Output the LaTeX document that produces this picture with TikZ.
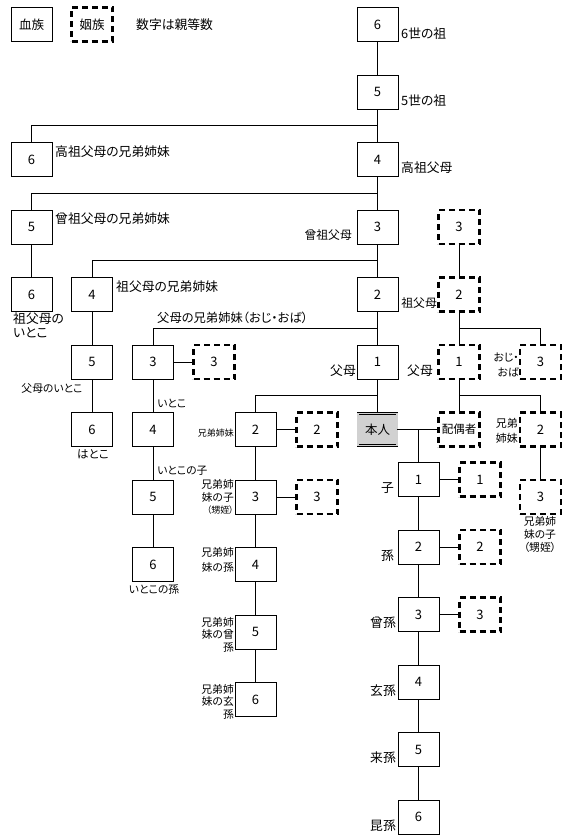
\documentclass[tikz,border=0pt]{standalone}
\usepackage{fontspec}
\setmainfont[RawFeature=+palt]{Noto Sans CJK JP}
\usetikzlibrary{calc}
\tikzset{
  blood/.style={draw, line width=0.8pt, minimum width=41pt, minimum height=34pt, inner sep=0pt, font=\fontsize{13}{13}\selectfont},
  inlaw/.style={blood, line width=2.2pt, dash pattern=on 6pt off 4pt},
  selfbox/.style={blood, minimum width=39pt, minimum height=32pt, line width=0.7pt, fill=black!18, double=black!18, double distance=1.4pt, font=\fontsize{12.5}{12.5}\selectfont},
  lbl/.style={inner sep=0pt, font=\fontsize{12.8}{14}\selectfont},
  lbm/.style={inner sep=0pt, font=\fontsize{10.8}{12.5}\selectfont},
  lbs/.style={inner sep=0pt, font=\fontsize{9}{10}\selectfont},
  conn/.style={line width=0.8pt}
}
\begin{document}
\begin{tikzpicture}[x=1pt,y=-1pt]
\useasboundingbox (0,0) rectangle (567,840);
% legend
\node[blood, font=\fontsize{12.5}{12.5}\selectfont] (lga) at (31.5,24.5) {血族};
\node[inlaw, font=\fontsize{12.5}{12.5}\selectfont] (lgb) at (92,24.5) {姻族};
\node[lbl, anchor=west] (lgt) at (136,25) {数字は親等数};
% main column
\node[blood] (m6) at (377.5,24.5) {6};
\node[blood] (m5) at (377.5,92) {5};
\node[blood] (m4) at (377.5,159.5) {4};
\node[blood] (m3) at (377.5,227) {3};
\node[blood] (m2) at (377.5,294.5) {2};
\node[blood] (m1) at (377.5,362) {1};
\node[selfbox] (me) at (377.5,429.5) {本人};
% column A
\node[blood] (a6) at (31.5,159.5) {6};
\node[blood] (a5) at (31.5,227) {5};
\node[blood] (a6b) at (31.5,294.5) {6};
% column B
\node[blood] (b4) at (92,294.5) {4};
\node[blood] (b5) at (92,362) {5};
\node[blood] (b6) at (92,429.5) {6};
% column C
\node[blood] (c3) at (153,362) {3};
\node[inlaw] (cd3) at (214,362) {3};
\node[blood] (c4) at (153,429.5) {4};
\node[blood] (c5) at (153,497) {5};
\node[blood] (c6) at (153,564.5) {6};
% column D
\node[blood] (d2) at (255.5,429.5) {2};
\node[inlaw] (dd2) at (317,429.5) {2};
\node[blood] (d3) at (255.5,497) {3};
\node[inlaw] (dd3) at (317,497) {3};
\node[blood] (d4) at (255.5,564.5) {4};
\node[blood] (d5) at (255.5,632) {5};
\node[blood] (d6) at (255.5,699.5) {6};
% children
\node[blood] (k1) at (418.5,479.5) {1};
\node[inlaw] (kd1) at (480,479.5) {1};
\node[blood] (k2) at (418.5,547) {2};
\node[inlaw] (kd2) at (480,547) {2};
\node[blood] (k3) at (418.5,614.5) {3};
\node[inlaw] (kd3) at (480,614.5) {3};
\node[blood] (k4) at (418.5,682) {4};
\node[blood] (k5) at (418.5,749.5) {5};
\node[blood] (k6) at (418.5,817) {6};
% spouse side
\node[inlaw] (r3) at (459,227) {3};
\node[inlaw] (r2) at (459,294.5) {2};
\node[inlaw] (r1) at (459,362) {1};
\node[inlaw] (ro) at (540.5,362) {3};
\node[inlaw, font=\fontsize{11.5}{11.5}\selectfont] (sp) at (459,429.5) {配偶者};
\node[inlaw] (rs2) at (540.5,429.5) {2};
\node[inlaw] (rs3) at (540.5,497) {3};
% connectors
\draw[conn] (m6)--(m5) (m5)--(m4) (m4)--(m3) (m3)--(m2) (m2)--(m1) (m1)--(me);
\draw[conn] (a6.north) |- ($(m5)!.5!(m4)$);
\draw[conn] (a5.north) |- ($(m4)!.5!(m3)$);
\draw[conn] (a5)--(a6b);
\draw[conn] (b4.north) |- ($(m3)!.5!(m2)$);
\draw[conn] (b4)--(b5) (b5)--(b6);
\draw[conn] (c3.north) |- ($(m2)!.5!(m1)$);
\draw[conn] (c3)--(cd3) (c3)--(c4) (c4)--(c5) (c5)--(c6);
\draw[conn] (d2.north) |- ($(m1)!.5!(me)$);
\draw[conn] (d2)--(dd2) (d2)--(d3) (d3)--(dd3) (d3)--(d4) (d4)--(d5) (d5)--(d6);
\draw[conn] (me)--(sp);
\draw[conn] (k1.north) -- (k1.north |- me);
\draw[conn] (k1)--(kd1) (k1)--(k2) (k2)--(kd2) (k2)--(k3) (k3)--(kd3) (k3)--(k4) (k4)--(k5) (k5)--(k6);
\draw[conn] (r3)--(r2) (r2)--(r1) (r1)--(sp);
\draw[conn] (ro.north) |- ($(r2)!.5!(r1)$);
\draw[conn] (rs2.north) |- ($(r1)!.5!(sp)$);
\draw[conn] (rs2)--(rs3);
% labels
\node[lbl, anchor=west] (t1) at (401,33.5) {6世の祖};
\node[lbl, anchor=west] (t2) at (401,101) {5世の祖};
\node[lbl, anchor=west] (t3) at (401,168) {高祖父母};
\node[lbl, anchor=west] (t4) at (55,151.5) {高祖父母の兄弟姉妹};
\node[lbl, anchor=west] (t5) at (55,218.5) {曾祖父母の兄弟姉妹};
\node[lbl, anchor=west] (t6) at (116,286.5) {祖父母の兄弟姉妹};
\node[lbl, anchor=east, font=\fontsize{11.8}{14}\selectfont] (t7) at (352,235.5) {曾祖父母};
\node[lbl, anchor=east, font=\fontsize{11.8}{14}\selectfont] (t8) at (437,303) {祖父母};
\node[lbl, anchor=north west, align=left] (t9) at (13,313) {祖父母の\\いとこ};
\node[lbl, anchor=west, font=\fontsize{12.3}{14}\selectfont] (t10) at (157,318) {父母の兄弟姉妹（おじ・おば）};
\node[lbl, anchor=east] (t11) at (356,370.5) {父母};
\node[lbl, anchor=east] (t12) at (433,370.5) {父母};
\node[lbm, anchor=east, align=right, font=\fontsize{10.8}{15}\selectfont] (t13) at (519,364.5) {おじ・\\おば};
\node[lbm] (t14) at (52,388) {父母のいとこ};
\node[lbm, font=\fontsize{11.5}{12.5}\selectfont] (t15) at (93,454) {はとこ};
\node[lbm, anchor=west] (t16) at (157,403) {いとこ};
\node[lbm, anchor=west] (t17) at (157,471) {いとこの子};
\node[lbm] (t18) at (154,589) {いとこの孫};
\node[lbs, anchor=east] (t19) at (234,433) {兄弟姉妹};
\node[lbm, anchor=east, align=right] (t20) at (234,497) {兄弟姉\\妹の子\\{\fontsize{9}{12.5}\selectfont （甥姪）}};
\node[lbm, anchor=east, align=right, font=\fontsize{10.8}{15}\selectfont] (t21) at (234,559.5) {兄弟姉\\妹の孫};
\node[lbm, anchor=east, align=right] (t22) at (234,634.5) {兄弟姉\\妹の曾\\孫};
\node[lbm, anchor=east, align=right] (t23) at (234,701.5) {兄弟姉\\妹の玄\\孫};
\node[lbm, anchor=east, align=right, font=\fontsize{11}{15}\selectfont] (t24) at (518,430.5) {兄弟\\姉妹};
\node[lbm, align=center, font=\fontsize{10.8}{13}\selectfont] (t25) at (540,534) {兄弟姉\\妹の子\\（甥姪）};
\node[lbl, anchor=east] (t26) at (394,488) {子};
\node[lbl, anchor=east] (t27) at (394,555.5) {孫};
\node[lbl, anchor=east] (t28) at (396,623) {曾孫};
\node[lbl, anchor=east] (t29) at (396,690.5) {玄孫};
\node[lbl, anchor=east] (t30) at (396,758) {来孫};
\node[lbl, anchor=east] (t31) at (396,825.5) {昆孫};
\end{tikzpicture}
\end{document}
